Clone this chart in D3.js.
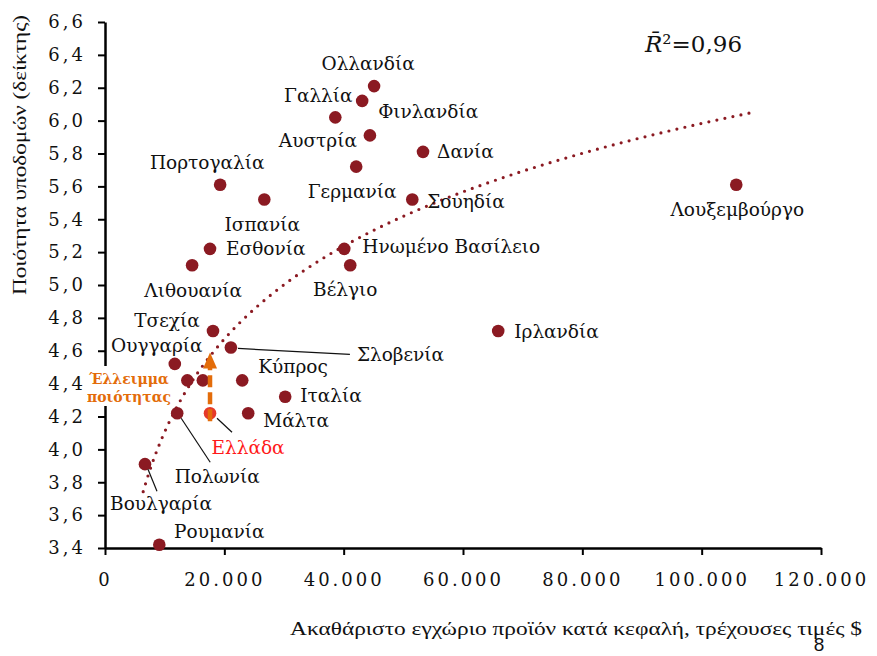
<!DOCTYPE html>
<html>
<head>
<meta charset="utf-8">
<script src="https://cdn.jsdelivr.net/npm/d3@7"></script>
<style>
  body { margin: 0; background: #fff; }
  svg { display: block; }
</style>
</head>
<body>
<script>
// Δεδομένα (από το γράφημα)
const countries = ["Ολλανδία", "Γαλλία", "Φινλανδία", "Αυστρία", "Δανία", "Γερμανία", "Σουηδία",
  "Πορτογαλία", "Ισπανία", "Εσθονία", "Λιθουανία", "Ηνωμένο Βασίλειο", "Βέλγιο", "Λουξεμβούργο",
  "Ιρλανδία", "Τσεχία", "Σλοβενία", "Ουγγαρία", "", "", "Κύπρος", "Ιταλία", "Μάλτα", "Ελλάδα",
  "Πολωνία", "Βουλγαρία", "Ρουμανία"];
const gdp = [45100, 38600, 43100, 44400, 53300, 42100, 51500,
  19300, 26700, 17600, 14600, 40100, 41100, 105800,
  65900, 18100, 21100, 11700, 13800, 16400, 23000, 30200, 24000, 17600,
  12100, 6700, 9100];
const quality = [6.21, 6.02, 6.12, 5.91, 5.81, 5.72, 5.52,
  5.61, 5.52, 5.22, 5.12, 5.22, 5.12, 5.61,
  4.72, 4.72, 4.62, 4.52, 4.42, 4.42, 4.42, 4.32, 4.22, 4.22,
  4.22, 3.91, 3.42];

const yTicks = [3.4, 3.6, 3.8, 4.0, 4.2, 4.4, 4.6, 4.8, 5.0, 5.2, 5.4, 5.6, 5.8, 6.0, 6.2, 6.4, 6.6];
const xTicks = [0, 20000, 40000, 60000, 80000, 100000, 120000];

// Λογαριθμική γραμμή τάσης y = a + b ln(x), διαβασμένη από το γράφημα
const trendA = -3.40, trendB = 0.815;
const trendRange = [6400, 108300];

const highlight = "Ελλάδα";
const gapTop = 4.59;

// Θέσεις ετικετών (σε px σχετικά με το σημείο)
const labelPos = {
  "Ολλανδία": [-6, -21, "middle"],
  "Γαλλία": [-17, -20, "middle"],
  "Φινλανδία": [16, 12, "start"],
  "Αυστρία": [-13, 7, "end"],
  "Δανία": [14, 1, "start"],
  "Γερμανία": [-4, 26, "middle"],
  "Σουηδία": [15, 3, "start"],
  "Πορτογαλία": [-13, -21, "middle"],
  "Ισπανία": [-2, 26, "middle"],
  "Εσθονία": [16, 1, "start"],
  "Λιθουανία": [1, 27, "middle"],
  "Ηνωμένο Βασίλειο": [18, -1, "start"],
  "Βέλγιο": [-5, 26, "middle"],
  "Λουξεμβούργο": [1, 26, "middle"],
  "Ιρλανδία": [16, 2, "start"],
  "Τσεχία": [-46, -9, "middle"],
  "Σλοβενία": [126, 9, "start"],
  "Ουγγαρία": [-18, -17, "middle"],
  "Κύπρος": [16, -12, "start"],
  "Ιταλία": [15, 0, "start"],
  "Μάλτα": [15, 9, "start"],
  "Ελλάδα": [38, 36, "middle"],
  "Πολωνία": [40, 65, "middle"],
  "Βουλγαρία": [16, 41, "middle"],
  "Ρουμανία": [60, -12, "middle"]
};
const leaders = {
  "Σλοβενία": [7, 1, 119, 7],
  "Πολωνία": [4, 5, 33, 49],
  "Βουλγαρία": [3, 5, 12, 27],
  "Ελλάδα": [7, 5, 22, 19]
};

const width = 877, height = 656;
const serif = "'DejaVu Serif', serif";
const dark = "#8B1A22";

const svg = d3.select("body").append("svg").attr("width", width).attr("height", height);

const x = d3.scaleLinear().domain([0, 120000]).range([105, 821]);
const y = d3.scaleLinear().domain([3.4, 6.6]).range([548, 22]);

// άξονες
const xAxis = svg.append("g").attr("transform", "translate(0,548)")
  .call(d3.axisBottom(x).tickValues(xTicks).tickSize(7).tickSizeOuter(0)
    .tickFormat(d => d3.format(",")(d).replace(/,/g, ".")));
const yAxis = svg.append("g").attr("transform", "translate(105,0)")
  .call(d3.axisLeft(y).tickValues(yTicks).tickSize(7).tickSizeOuter(0)
    .tickFormat(d => d3.format(".1f")(d).replace(".", ",")));

[xAxis, yAxis].forEach(g => {
  g.select(".domain").attr("stroke", "#000").attr("stroke-width", 2.5);
  g.selectAll(".tick line").attr("stroke", "#000").attr("stroke-width", 2);
  g.selectAll(".tick text").attr("fill", "#111").style("font-family", serif)
    .style("font-size", "18px").style("letter-spacing", "3px");
});
xAxis.selectAll(".tick text").attr("dy", "1.55em");
yAxis.selectAll(".tick text").attr("x", -19);

// τίτλοι αξόνων
svg.append("text")
  .attr("x", 862).attr("y", 635).attr("text-anchor", "end")
  .attr("textLength", 572).attr("lengthAdjust", "spacingAndGlyphs")
  .style("font-family", "'Liberation Serif', serif").style("font-size", "19px").attr("fill", "#111")
  .text("Ακαθάριστο εγχώριο προϊόν κατά κεφαλή, τρέχουσες τιμές $");

svg.append("text")
  .attr("transform", "translate(26,155) rotate(-90)").attr("text-anchor", "middle")
  .attr("textLength", 280).attr("lengthAdjust", "spacingAndGlyphs")
  .style("font-family", "'Liberation Serif', serif").style("font-size", "19px").attr("fill", "#111")
  .text("Ποιότητα υποδομών (δείκτης)");

// γραμμή τάσης
const trendX = d3.range(trendRange[0], trendRange[1], 500).concat([trendRange[1]]);
svg.append("path")
  .datum(trendX)
  .attr("d", d3.line().x(d => x(d)).y(d => y(trendA + trendB * Math.log(d))))
  .attr("fill", "none").attr("stroke", dark).attr("stroke-width", 3.2)
  .attr("stroke-linecap", "round").attr("stroke-dasharray", "0 8.2");

const pts = countries.map((c, i) => ({ name: c, gdp: gdp[i], q: quality[i] }));

// σημειώσεις ελλείμματος
const gx = x(gdp[countries.indexOf(highlight)]);
const gy = y(quality[countries.indexOf(highlight)]);
svg.append("rect").attr("x", 86).attr("y", 366).attr("width", 88).attr("height", 40).attr("fill", "#fff");
svg.append("text").attr("text-anchor", "middle").attr("fill", "#E36C0A")
  .style("font-family", serif).style("font-size", "14px").style("font-weight", "bold")
  .selectAll("tspan").data(["Έλλειμμα", "ποιότητας"]).join("tspan")
  .attr("x", 129).attr("y", (d, i) => 384 + i * 18).text(d => d);

// σημεία
svg.append("g").selectAll("circle").data(pts).join("circle")
  .attr("cx", d => x(d.gdp)).attr("cy", d => y(d.q)).attr("r", 6.3)
  .attr("fill", d => d.name === highlight ? "#E5392A" : dark);

// βέλος
svg.append("line")
  .attr("x1", gx).attr("x2", gx).attr("y1", gy + 8).attr("y2", y(gapTop) + 14)
  .attr("stroke", "#E36C0A").attr("stroke-width", 4.5).attr("stroke-dasharray", "12 5");
svg.append("path")
  .attr("d", d3.line()([[gx - 7, y(gapTop) + 16], [gx, y(gapTop)], [gx + 7, y(gapTop) + 16]]) + "Z")
  .attr("fill", "#E36C0A");

// γραμμές οδηγοί
svg.append("g").selectAll("line").data(pts.filter(d => leaders[d.name])).join("line")
  .attr("x1", d => x(d.gdp) + leaders[d.name][0]).attr("y1", d => y(d.q) + leaders[d.name][1])
  .attr("x2", d => x(d.gdp) + leaders[d.name][2]).attr("y2", d => y(d.q) + leaders[d.name][3])
  .attr("stroke", "#111").attr("stroke-width", 1.2);

// ετικέτες
svg.append("g").selectAll("text").data(pts.filter(d => labelPos[d.name])).join("text")
  .attr("x", d => x(d.gdp) + labelPos[d.name][0]).attr("y", d => y(d.q) + labelPos[d.name][1])
  .attr("text-anchor", d => labelPos[d.name][2]).attr("dominant-baseline", "middle")
  .attr("fill", d => d.name === highlight ? "#FF1A1A" : "#111")
  .style("font-family", serif).style("font-size", "18.5px")
  .text(d => d.name);

// R²
const r2 = svg.append("text").attr("x", 645).attr("y", 52)
  .style("font-family", "'DejaVu Serif', serif").style("font-size", "23px").attr("fill", "#111");
r2.append("tspan").style("font-style", "italic").text("R\u0304");
r2.append("tspan").text("²=0,96");

// αριθμός σελίδας
svg.append("text").attr("x", 819).attr("y", 651).attr("text-anchor", "middle")
  .style("font-family", "'Liberation Sans Narrow', 'Liberation Sans', sans-serif").style("font-size", "19px")
  .attr("fill", "#111").text("8");
</script>
</body>
</html>
